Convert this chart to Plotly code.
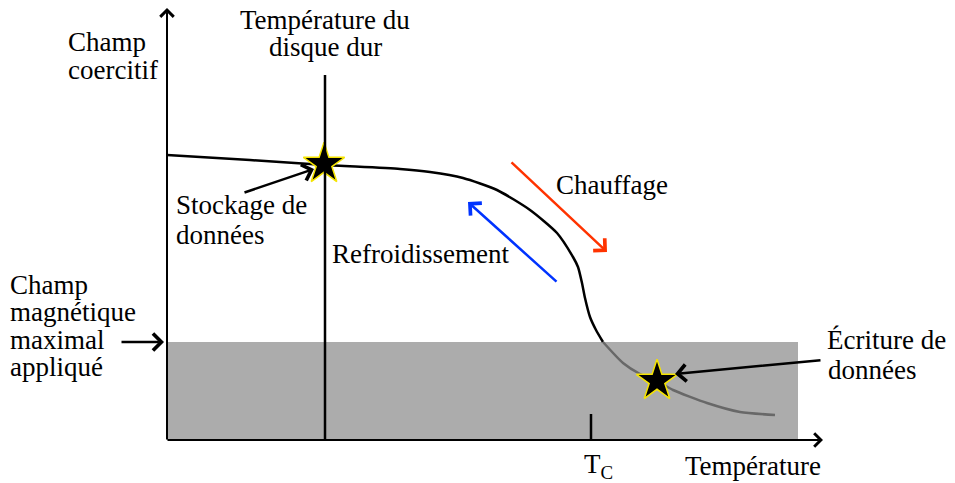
import plotly.graph_objects as go

# Coercive field curve (in image coordinates: x right, y down)
curve_x = [167, 250, 325, 400, 430, 463, 497, 530, 557, 573, 578, 582, 585, 590, 596, 603,
           623, 640, 657, 673, 707, 740, 775]
curve_y = [155, 160, 165, 169, 172, 178, 190, 210, 233, 257, 267, 283, 298, 317, 330, 342,
           363, 374, 381, 390, 403, 412, 415]

star_x = [324, 657]
star_y = [164, 381]

# applied field level (top of gray band) and limits
field_level = 342
disk_temp_x = 325
tc_x = 591

FONT = "Liberation Serif"
FS = 27
OFF = 8  # page body margin

fig = go.Figure()

split = next(i for i, y in enumerate(curve_y) if y >= field_level)
fig.add_trace(go.Scatter(x=curve_x[:split + 1], y=curve_y[:split + 1], mode="lines",
                         line=dict(color="black", width=2.5, shape="spline", smoothing=0.6),
                         hoverinfo="skip", showlegend=False))
fig.add_trace(go.Scatter(x=curve_x[split:], y=curve_y[split:], mode="lines",
                         line=dict(color="#686868", width=2.5, shape="spline", smoothing=0.6),
                         hoverinfo="skip", showlegend=False))
fig.add_trace(go.Scatter(x=star_x, y=star_y, mode="markers",
                         marker=dict(symbol="star", size=31, color="black",
                                     line=dict(color="#f5e400", width=1.5)),
                         hoverinfo="skip", showlegend=False))

shapes = [
    dict(type="rect", x0=167, x1=798, y0=field_level, y1=440, fillcolor="#acacac",
         line=dict(width=0), layer="below"),
    dict(type="line", x0=disk_temp_x, x1=disk_temp_x, y0=75, y1=440,
         line=dict(color="black", width=2.5)),
    dict(type="line", x0=tc_x, x1=tc_x, y0=414, y1=440,
         line=dict(color="black", width=2.5)),
]

annotations = []


def arrow(x0, y0, x1, y1, color="black", width=2.5):
    annotations.append(dict(x=x1, y=y1, ax=x0, ay=y0, xref="x", yref="y", axref="x", ayref="y",
                            text="", showarrow=True, arrowhead=4, arrowsize=1.3,
                            arrowwidth=width, arrowcolor=color, standoff=0, startstandoff=0))


# axes
arrow(167, 441, 167, 8, width=2)
arrow(166, 440, 823, 440, width=2)
# pointer arrows
arrow(243, 193, 314, 169)
arrow(822, 360, 675, 374)
arrow(120, 342, 164, 342)
arrow(510, 161, 607, 252, color="#ff3300")
arrow(558, 283, 468, 202, color="#0033ff")

label_texts = ["Champ", "coercitif", "Température du", "disque dur", "Stockage de", "données",
               "Refroidissement", "Chauffage", "Champ", "magnétique", "maximal", "appliqué",
               "Écriture de", "données", "T<sub>C</sub>", "Température"]
label_x = [67, 67, 325, 325, 175, 175, 331, 555, 9, 9, 9, 9, 826, 827, 583, 684]
label_y = [42, 70, 20, 47, 205, 235, 254, 185, 285, 312, 340, 367, 340, 370, 466, 466]
label_anchor = ["left", "left", "center", "center", "left", "left", "left", "left", "left",
                "left", "left", "left", "left", "left", "left", "left"]

for t, x, y, a in zip(label_texts, label_x, label_y, label_anchor):
    annotations.append(dict(x=x, y=y, xref="x", yref="y", text=t, showarrow=False,
                            xanchor=a, yanchor="middle", borderpad=0,
                            font=dict(family=FONT, size=FS, color="black")))

fig.update_layout(
    width=955 - OFF, height=483 - OFF, margin=dict(l=0, r=0, t=0, b=0),
    paper_bgcolor="white", plot_bgcolor="white",
    xaxis=dict(range=[OFF, 955], visible=False, fixedrange=True),
    yaxis=dict(range=[483, OFF], visible=False, fixedrange=True),
    shapes=shapes, annotations=annotations, showlegend=False,
)

fig.write_html("out.html")
